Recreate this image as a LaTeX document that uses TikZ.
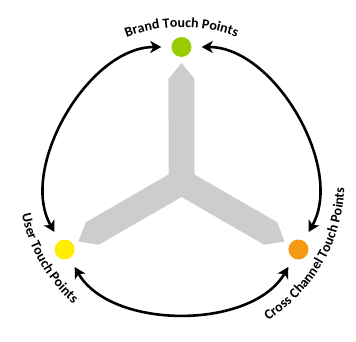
\documentclass[tikz,border=0pt]{standalone}
\usepackage{fontspec}
\setmainfont{Carlito}
\usetikzlibrary{arrows.meta,decorations.text}
\definecolor{brandgreen}{HTML}{99CC00}
\definecolor{useryellow}{HTML}{FFEE00}
\definecolor{crossorange}{HTML}{F39A12}
\definecolor{armgray}{HTML}{CDCDCD}
\newcommand{\tpfont}{\bfseries\fontsize{14}{16}\selectfont}
\begin{document}
\begin{tikzpicture}[x=1bp,y=1bp,
  spot/.style={circle,minimum size=20bp,inner sep=0pt},
  twoway/.style={line width=2.6bp,{Stealth[length=11bp,width=12bp,inset=3bp]}-{Stealth[length=11bp,width=12bp,inset=3bp]},shorten <=10bp,shorten >=10bp},
  curved/.style={decorate,decoration={text along path,text align=center,text={|\tpfont|#1}}}]
  \useasboundingbox (-181.5,-160) rectangle (174.5,182);
  % three-armed hub
  \fill[armgray] ([rotate=90]7.5,-13) \foreach \a in {90,210,330} {
      -- ([rotate=\a]7.5,-13) -- ([rotate=\a]103,-13) -- ([rotate=\a]119,0) -- ([rotate=\a]103,13)} -- cycle;
  \foreach \name/\ang/\col in {brand/90/brandgreen, user/210/useryellow, cross/330/crossorange}
    \node[spot,fill=\col] (\name) at (\ang:135) {};
  \draw[twoway] (brand) to[bend right=60,looseness=0.95] (user);
  \draw[twoway] (user) to[bend right=60,looseness=0.95] (cross);
  \draw[twoway] (cross) to[bend right=60,looseness=0.95] (brand);
  % labels along the ring
  \path[curved={Brand Touch Points}] (120:155) arc[start angle=120,end angle=60,radius=155];
  \path[curved={User Touch Points}] (170:163) arc[start angle=170,end angle=250,radius=163];
  \path[curved={Cross Channel Touch Points}] (270:163) arc[start angle=270,end angle=390,radius=163];
\end{tikzpicture}
\end{document}
